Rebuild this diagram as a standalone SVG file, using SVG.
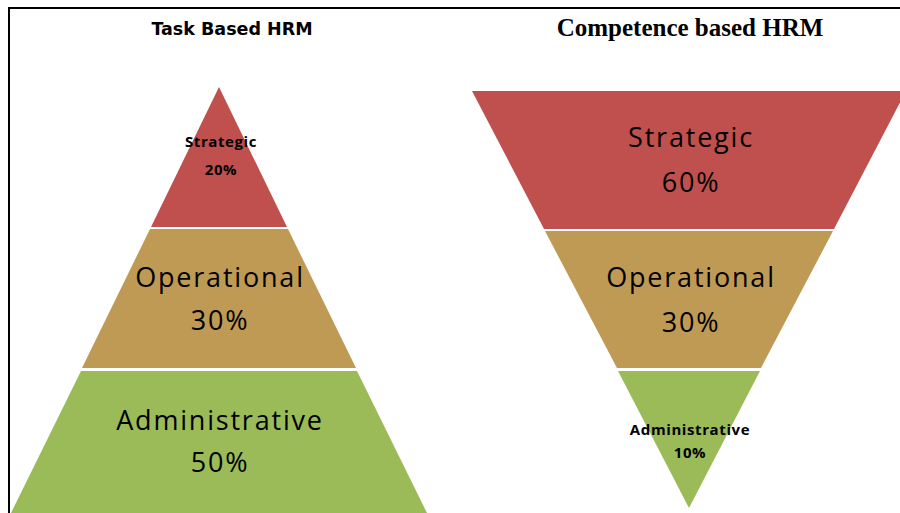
<svg xmlns="http://www.w3.org/2000/svg" width="900" height="513" viewBox="0 0 900 513">
  <style>
    .red { fill: #C0504D; }
    .tan { fill: #BE9A55; }
    .green { fill: #9BBB59; }
    .lbl { font-family: "Open Sans", "Liberation Sans", sans-serif; fill: #000; text-anchor: middle; font-variant-ligatures: none; }
    .big { font-size: 27px; letter-spacing: 1.8px; }
    .small { font-size: 15px; font-weight: bold; letter-spacing: 0.6px; }
    .title-sans { font-family: "DejaVu Sans", "Open Sans", sans-serif; font-size: 17.5px; font-weight: bold; text-anchor: middle; }
    .title-serif { font-family: "Liberation Serif", serif; font-size: 25px; font-weight: bold; text-anchor: middle; }
  </style>
  <rect width="900" height="513" fill="#fff"/>
  <!-- frame: top and left rules -->
  <g id="frame" stroke="#000" stroke-width="2" fill="none">
    <line x1="9" y1="8" x2="900" y2="8"/>
    <line x1="9" y1="7" x2="9" y2="513"/>
  </g>

  <text class="title-sans" x="232" y="35">Task Based HRM</text>
  <text class="title-serif" x="690" y="36">Competence based HRM</text>

  <!-- task based pyramid -->
  <g id="task-strategic">
    <polygon class="red" points="219,87 287,227 151,227"/>
    <text class="lbl small" x="221" y="147">Strategic</text>
    <text class="lbl small" x="221" y="175">20%</text>
  </g>
  <g id="task-operational">
    <polygon class="tan" points="150,229 288,229 356,368 82,368"/>
    <text class="lbl big" x="220" y="287">Operational</text>
    <text class="lbl big" x="220" y="330">30%</text>
  </g>
  <g id="task-administrative">
    <polygon class="green" points="81,371 357,371 427,513 11,513"/>
    <text class="lbl big" x="220" y="430">Administrative</text>
    <text class="lbl big" x="220" y="472">50%</text>
  </g>

  <!-- competence based inverted pyramid -->
  <g id="comp-strategic">
    <polygon class="red" points="472,91 906,91 834,229 544,229"/>
    <text class="lbl big" x="691" y="147">Strategic</text>
    <text class="lbl big" x="691" y="192">60%</text>
  </g>
  <g id="comp-operational">
    <polygon class="tan" points="545,231 833,231 761,368 617,368"/>
    <text class="lbl big" x="691" y="287">Operational</text>
    <text class="lbl big" x="691" y="332">30%</text>
  </g>
  <g id="comp-administrative">
    <polygon class="green" points="618,371 760,371 689,508"/>
    <text class="lbl small" x="690" y="435">Administrative</text>
    <text class="lbl small" x="690" y="458">10%</text>
  </g>
</svg>
